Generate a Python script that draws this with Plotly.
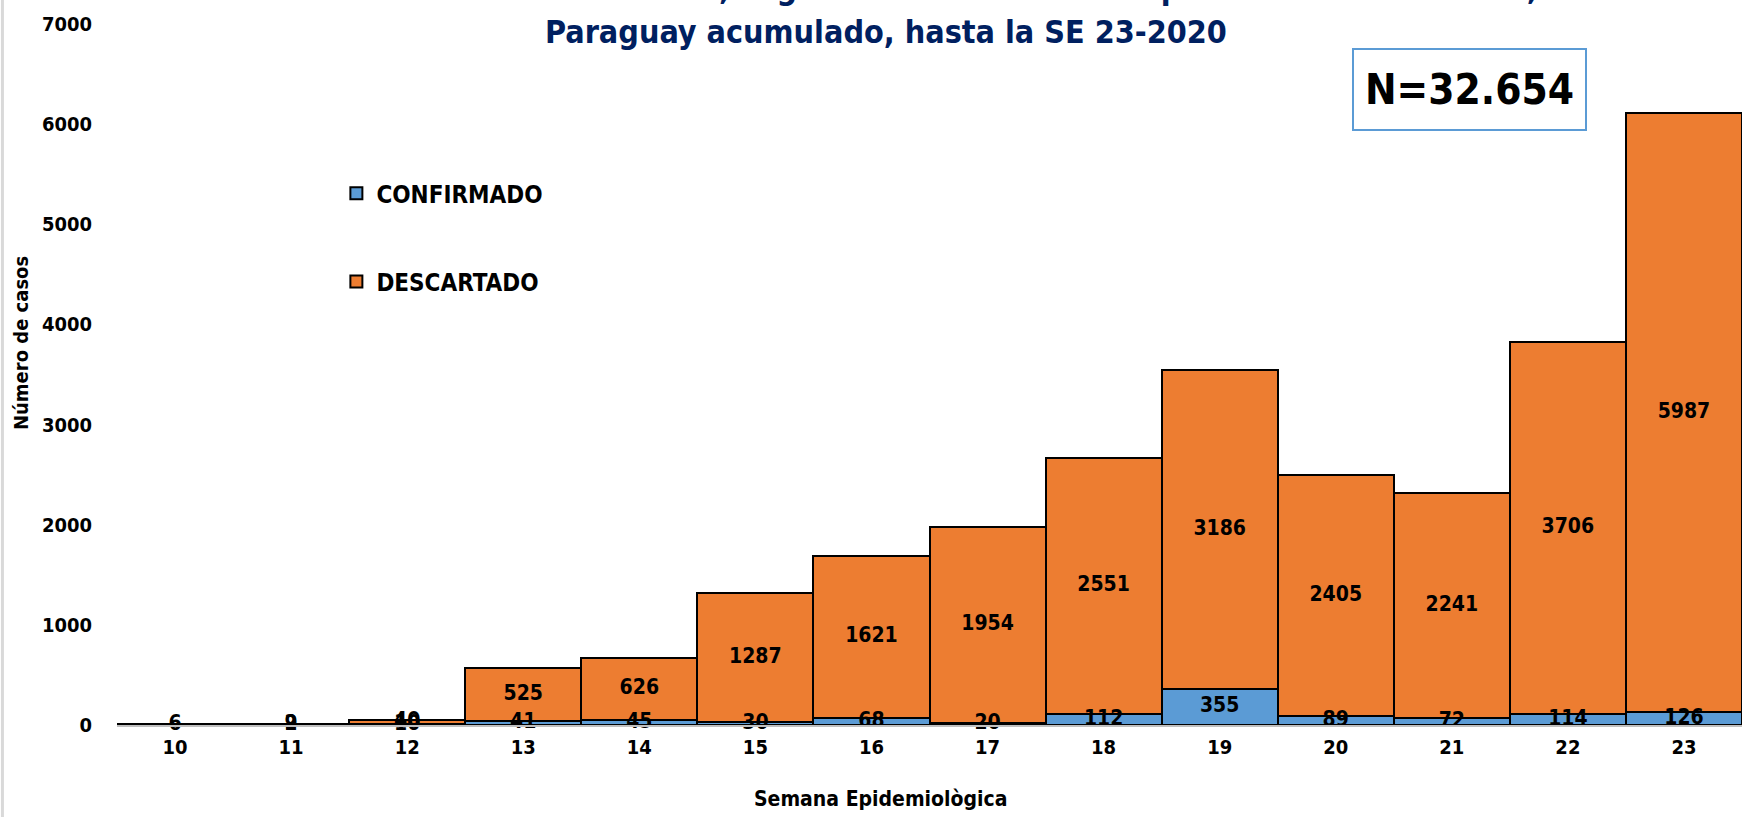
import plotly.graph_objects as go

# Semanas epidemiologicas y casos
semanas = ["10", "11", "12", "13", "14", "15", "16", "17", "18", "19", "20", "21", "22", "23"]
confirmado = [None, 2, 10, 41, 45, 30, 68, 20, 112, 355, 89, 72, 114, 126]
descartado = [6, 9, 40, 525, 626, 1287, 1621, 1954, 2551, 3186, 2405, 2241, 3706, 5987]

y_ticks = [0, 1000, 2000, 3000, 4000, 5000, 6000, 7000]

titulo_1 = "Casos notificados, según clasificación de sospechosos de COVID-19,"
titulo_2 = "Paraguay acumulado, hasta la SE 23-2020"
total_n = "N=32.654"

FUENTE = "Liberation Sans Narrow, Arial Narrow, DejaVu Sans Condensed, sans-serif"
AZUL = "#5B9BD5"
NARANJA = "#ED7D31"
fuente_etiq = dict(family=FUENTE, size=21, color="black", weight="bold")

fig = go.Figure()

fig.add_trace(go.Bar(
    x=semanas, y=confirmado, name="CONFIRMADO", legendgroup="c",
    marker=dict(color=AZUL, line=dict(color="black", width=2)),
    hoverinfo="skip",
))
fig.add_trace(go.Bar(
    x=semanas, y=descartado, name="DESCARTADO", legendgroup="d",
    marker=dict(color=NARANJA, line=dict(color="black", width=2)),
    hoverinfo="skip",
))

# etiquetas centradas en cada segmento (como en Excel)
base = [c or 0 for c in confirmado]
fig.add_trace(go.Scatter(
    x=semanas, y=[None if c is None else c / 2 for c in confirmado],
    text=[("" if c is None else str(c)) for c in confirmado],
    mode="text", textfont=fuente_etiq, cliponaxis=False,
    showlegend=False, hoverinfo="skip",
))
fig.add_trace(go.Scatter(
    x=semanas, y=[b + d / 2 for b, d in zip(base, descartado)],
    text=[str(d) for d in descartado],
    mode="text", textfont=fuente_etiq, cliponaxis=False,
    showlegend=False, hoverinfo="skip",
))

fig.update_layout(
    width=1742, height=817,
    barmode="stack", bargap=0,
    plot_bgcolor="white", paper_bgcolor="white",
    margin=dict(l=117, r=0, t=24, b=92, autoexpand=False),
    font=dict(family=FUENTE, color="black", weight="bold"),
    legend=dict(
        x=0.135, y=0.79, xanchor="left", yanchor="top",
        traceorder="grouped", tracegroupgap=54,
        font=dict(family=FUENTE, size=24, color="black", weight="bold"),
        bgcolor="rgba(0,0,0,0)",
    ),
    xaxis=dict(
        type="category", range=[-0.5, len(semanas) - 0.5],
        showgrid=False, zeroline=False, automargin=False,
        showline=True, linecolor="#BFBFBF", linewidth=2,
        ticks="", ticklabelstandoff=3,
        tickfont=dict(family=FUENTE, size=20, color="black", weight="bold"),
    ),
    yaxis=dict(
        range=[0, 7000], tickvals=y_ticks, showgrid=False, zeroline=False,
        automargin=False, showline=False, ticks="", ticklabelstandoff=24,
        tickfont=dict(family=FUENTE, size=20, color="black", weight="bold"),
    ),
    shapes=[dict(type="line", xref="paper", yref="paper", x0=-0.0705, x1=-0.0705,
                 y0=-0.14, y1=1.05, line=dict(color="#D9D9D9", width=3))],
)

anotaciones = [
    dict(text=titulo_1, x=0.535, y=1.052, font=dict(size=32, color="#002060")),
    dict(text=titulo_2, x=0.473, y=0.988, font=dict(size=32, color="#002060")),
    dict(text="Número de casos", x=-0.059, y=0.545, textangle=-90,
         font=dict(size=20, color="black")),
    dict(text="Semana Epidemiològica", x=0.47, y=-0.106,
         font=dict(size=21, color="black")),
    dict(text=total_n, x=0.832, y=0.906, width=229, height=77,
         bordercolor=AZUL, borderwidth=2, bgcolor="white",
         font=dict(size=42, color="black")),
]
for a in anotaciones:
    fig.add_annotation(xref="paper", yref="paper", showarrow=False,
                       xanchor="center", yanchor="middle",
                       font_family=FUENTE, font_weight="bold", **a)

# sin margen del body para que el grafico empiece en la esquina
fig.write_html("out.html", config={"displayModeBar": False},
               post_script="document.body.style.margin='0';")
